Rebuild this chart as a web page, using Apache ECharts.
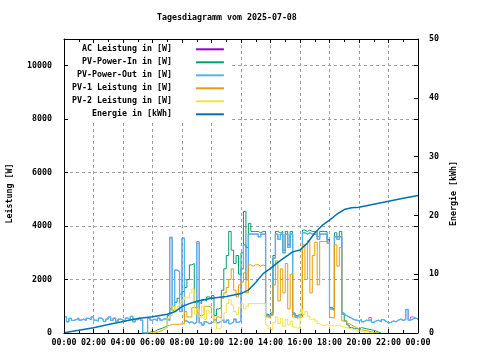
<!DOCTYPE html>
<html>
<head>
<meta charset="utf-8">
<script src="https://cdn.jsdelivr.net/npm/echarts@6/dist/echarts.min.js"></script>
<style>html,body{margin:0;padding:0;background:#fff}#c{width:480px;height:360px}</style>
</head>
<body>
<div id="c"></div>
<script>
// ---- data (10-minute samples, 00:00 .. 24:00) ----
const TITLE = 'Tagesdiagramm vom 2025-07-08';
const SERIES_NAMES = ['AC Leistung in [W]', 'PV-Power-In in [W]', 'PV-Power-Out in [W]', 'PV-1 Leistung in [W]', 'PV-2 Leistung in [W]', 'Energie in [kWh]'];
const X_LABELS = ['00:00','02:00','04:00','06:00','08:00','10:00','12:00','14:00','16:00','18:00','20:00','22:00','00:00'];
const SAMPLE_HOURS = 1 / 6;

const AC = [
 610,420,550,470,500,560, 480,520,470,550,500,600, 480,450,560,510,430,520, 600,470,560,440,520,480,
 460,560,500,620,420,500, 560,480,0,0,560,480, 520,450,560,480,540,500, 480,3590,850,2350,2300,800,
 3550,450,380,420,350,400, 3420,380,300,420,350,380, 420,500,380,450,520,400, 480,350,420,520,400,450,
 2400,3300,2000,3700,3700,3700, 3700,3600,3700,3700,650,600, 700,2800,3700,3500,3700,3000, 3700,3200,3700,700,600,650,
 650,3750,3700,3750,3700,3700, 3700,3500,3700,3700,3700,3470, 900,850,3600,3500,3600,700, 650,600,550,500,480,450,
 500,420,480,460,580,400, 450,480,420,500,440,380, 400,450,420,480,520,470, 500,880,480,600,560,520, 560];
const PV_OUT = [
 610,420,550,470,500,560, 480,520,470,550,500,600, 480,450,560,510,430,520, 600,470,560,440,520,480,
 460,560,500,620,420,500, 560,480,0,0,560,480, 520,450,560,480,540,500, 480,3550,850,2350,2300,800,
 3550,450,380,420,350,400, 3350,380,300,420,350,380, 420,500,380,450,520,400, 480,350,420,520,400,450,
 2400,3300,2000,3700,3700,3700, 3700,3600,3700,3700,650,600, 700,2800,3700,3500,3700,3000, 3700,3200,3700,700,600,650,
 650,3750,3700,3750,3700,3700, 3700,3500,3700,3700,3700,3400, 900,850,3600,3500,3600,700, 650,600,550,500,480,450,
 500,420,480,460,510,400, 450,480,420,500,440,380, 400,450,420,480,520,470, 500,880,480,530,560,520, 560];
const PV_IN = [
 null,null,null,null,null,null, null,null,null,null,null,null, null,null,null,null,null,null, null,null,null,null,null,null,
 null,null,null,null,null,null, null,null,null,0,30,50, 60,120,150,180,220,260, 650,900,1000,1150,1300,1450,
 1550,1700,2000,2550,2600,1150, 1150,1100,1250,1200,1350,1300, 1400,650,900,950,1600,2400, 2900,3800,3100,2600,2900,2200,
 3000,4550,3200,4100,3800,3800, 3800,3750,3800,3800,700,650, 750,2900,3800,3750,3800,3100, 3800,3300,3800,750,650,700,
 700,3850,3800,3850,3800,3800, 3800,3600,3800,3800,3800,3500, 950,900,3750,3600,3800,750, 450,300,200,180,160,150,
 200,180,160,140,120,100, 70,30,0,null,null,null, null,null,null,null,null,null, null,null,null,null,null,null, null];
const PV1 = [
 null,null,null,null,null,null, null,null,null,null,null,null, null,null,null,null,null,null, null,null,null,null,null,null,
 null,null,null,null,null,null, null,null,null,null,null,null, 0,30,60,100,150,200, 280,320,330,320,330,340,
 350,800,600,600,950,950, 750,650,700,1000,1000,950, 650,500,600,550,1300,1500, 1700,2000,2400,1600,1350,1800,
 1900,2250,1500,2550,2500,2550, 2550,2500,2550,2500,600,550, 650,1800,2700,1200,2400,1500, 2600,900,2200,600,550,580,
 600,3300,2000,3450,1500,2900, 3400,1800,3425,3425,3425,3350, 580,560,3300,2500,3200,450, 450,350,300,250,200,150,
 120,100,90,70,50,30, 10,0,null,null,null,null, null,null,null,null,null,null, null,null,null,null,null,null, null];
const PV2 = [
 null,null,null,null,null,null, null,null,null,null,null,null, null,null,null,null,null,null, null,null,null,null,null,null,
 null,null,null,null,null,null, null,null,null,null,0,20, 40,60,90,120,150,200, 550,650,1000,800,1000,1100,
 1250,1350,1300,1500,1650,700, 900,600,1000,500,850,750, 650,400,150,200,500,750, 1100,1250,1050,800,700,950,
 1100,900,1000,1100,1100,1100, 1100,1100,1100,1100,300,150, 110,400,600,350,550,250, 500,300,450,220,180,200,
 870,700,800,620,500,550, 450,350,300,280,320,260, 280,260,270,290,260,220, 200,170,150,120,100,80,
 60,40,30,20,10,0, null,null,null,null,null,null, null,null,null,null,null,null, null,null,null,null,null,null, null];
const ENERGY_T = [0,1,2,3,4,5,6,7,7.5,8,8.5,9,10,11,12,12.5,13,13.5,14,14.5,15,15.5,16,16.5,17,17.5,18,18.5,19,19.5,20,21,22,23,24];
const ENERGY = [0.05,0.45,0.9,1.45,1.95,2.45,2.75,3.2,3.6,4.5,5.0,5.4,5.9,6.2,6.7,7.3,8.6,10.1,11.0,12.0,12.9,13.8,14.1,15.3,17.0,18.3,19.2,20.2,21.0,21.3,21.4,21.9,22.4,22.9,23.4];

const COLORS = ['#9400d3', '#009e73', '#56b4e9', '#e69f00', '#f0e442', '#0072b2'];
const WIDTHS = [0.6, 1, 1.3, 1, 1, 1.5];
const FONT = 'DejaVu Sans Mono';
const FS = 8.3;

function toPairs(arr) { return arr.map((v, i) => [i * SAMPLE_HOURS, v]); }

const powerSets = [AC, PV_IN, PV_OUT, PV1, PV2];
const series = powerSets.map((arr, k) => ({
  name: SERIES_NAMES[k], type: 'line', step: 'end', showSymbol: false, symbol: 'none',
  xAxisIndex: 0, yAxisIndex: 0, data: toPairs(arr),
  lineStyle: { color: COLORS[k], width: WIDTHS[k] }, itemStyle: { color: COLORS[k] },
  animation: false
}));
series.push({
  name: SERIES_NAMES[5], type: 'line', showSymbol: false, symbol: 'none',
  xAxisIndex: 0, yAxisIndex: 1, data: ENERGY_T.map((t, i) => [t, ENERGY[i]]),
  lineStyle: { color: COLORS[5], width: WIDTHS[5] }, itemStyle: { color: COLORS[5] },
  animation: false
});

const txt = { fontFamily: FONT, fontSize: FS, color: '#000', fontWeight: 'bold' };
const blackLine = { show: true, onZero: false, lineStyle: { color: '#000', width: 1 } };
const gridColor = '#a0a0a0';
const tick = { show: true, inside: true, length: 4, lineStyle: { color: '#000' } };
const minor = { show: true, splitNumber: 2, length: 3, lineStyle: { color: '#000' } };

const option = {
  animation: false,
  backgroundColor: '#fff',
  title: { text: TITLE, left: 157, top: 14, padding: 0, textStyle: Object.assign({}, txt) },
  grid: { left: 64, right: 62, top: 39, bottom: 27, containLabel: false, outerBoundsMode: 'none' },
  legend: {
    orient: 'vertical', left: 64, top: 39, align: 'right', selectedMode: false, z: 3,
    itemWidth: 28, itemHeight: 10, itemGap: 3, padding: [5.3, 6, 1.5, 8],
    backgroundColor: '#fff',
    itemStyle: { color: 'rgba(0,0,0,0)', borderColor: 'rgba(0,0,0,0)', borderWidth: 0, opacity: 0 },
    textStyle: Object.assign({ padding: [0, 19, 2, 0], lineHeight: 8 }, txt),
    data: SERIES_NAMES
  },
  xAxis: [{
    type: 'value', min: 0, max: 24, interval: 2, position: 'bottom', z: 0,
    axisLine: blackLine, axisTick: tick, minorTick: minor,
    axisLabel: Object.assign({ margin: 6, formatter: v => X_LABELS[Math.round(v / 2)] }, txt),
    splitLine: { show: true, lineStyle: { color: gridColor, type: [3, 3], width: 1 } }
  }, {
    type: 'value', min: 0, max: 24, interval: 2, position: 'top', z: 5,
    axisLine: blackLine, axisTick: tick, minorTick: minor,
    axisLabel: { show: false }, splitLine: { show: false }
  }],
  yAxis: [{
    type: 'value', min: 0, max: 11000, interval: 2000, position: 'left', z: 5,
    name: 'Leistung [W]', nameLocation: 'middle', nameGap: 50, nameRotate: 90,
    nameTextStyle: Object.assign({ padding: [0, 15, 0, 0] }, txt),
    axisLine: blackLine, axisTick: tick,
    axisLabel: Object.assign({ margin: 12, showMaxLabel: false, formatter: v => String(v) }, txt),
    splitLine: { show: false }
  }, {
    type: 'value', min: 0, max: 50, interval: 10, position: 'right', z: 5,
    name: 'Energie [kWh]', nameLocation: 'middle', nameGap: 31, nameRotate: 90,
    nameTextStyle: Object.assign({ padding: [0, 15, 0, 0] }, txt),
    axisLine: blackLine, axisTick: tick,
    axisLabel: Object.assign({ margin: 11 }, txt),
    splitLine: { show: false }
  }, {
    type: 'value', min: 0, max: 11000, interval: 2000, position: 'right', offset: 0, z: 0,
    axisLine: { show: false, onZero: false }, axisTick: tick,
    axisLabel: { show: false },
    splitLine: { show: true, lineStyle: { color: ['rgba(0,0,0,0)', gridColor, gridColor, gridColor, gridColor, gridColor, 'rgba(0,0,0,0)'], type: [3, 3], width: 1 } }
  }],
  series: series
};

const chart = echarts.init(document.getElementById('c'), null, { renderer: 'canvas' });
chart.setOption(option);
</script>
</body>
</html>
